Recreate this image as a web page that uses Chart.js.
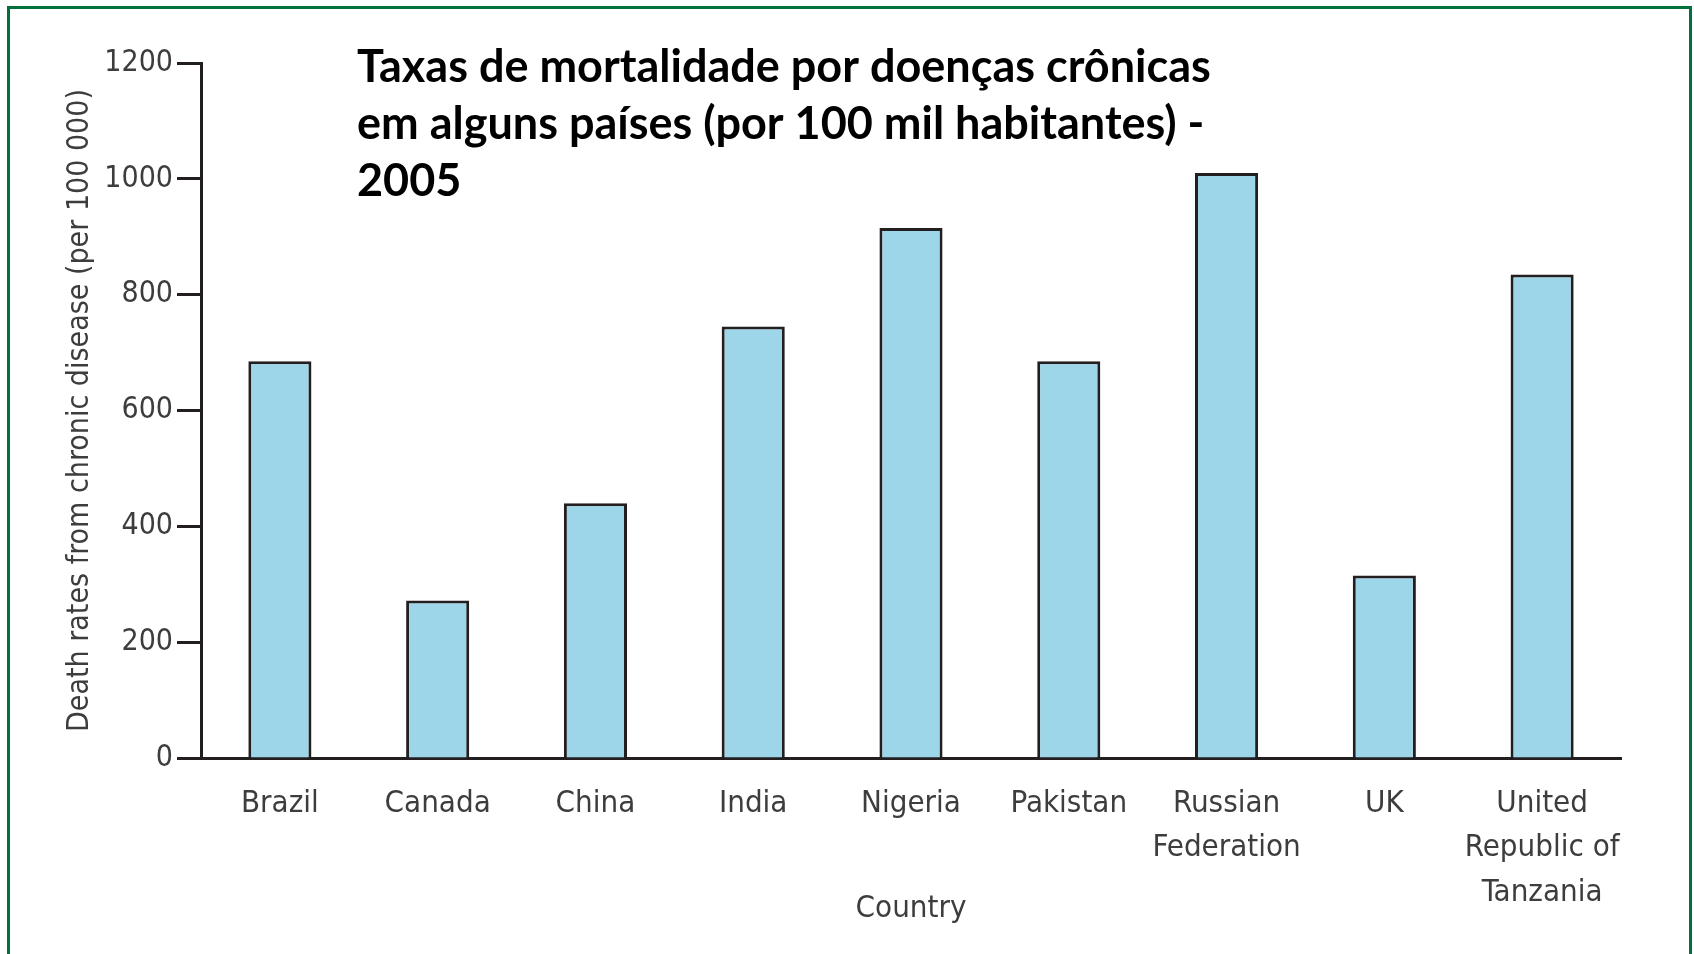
<!DOCTYPE html>
<html>
<head>
<meta charset="utf-8">
<script src="https://cdn.jsdelivr.net/npm/chart.js@4"></script>
<style>
  html, body { margin: 0; padding: 0; background: #fff; overflow: hidden; }
  #frame {
    position: absolute; left: 7px; top: 6px; width: 1679px; height: 1000px;
    border: 3px solid #00703c;
  }
  #deathChart { position: absolute; left: 0; top: 0; }
</style>
</head>
<body>
<div id="frame"></div>
<canvas id="deathChart" width="1694" height="954"></canvas>
<script>
// data
const countries = [
  "Brazil", "Canada", "China", "India", "Nigeria", "Pakistan",
  ["Russian", "Federation"], "UK", ["United", "Republic of", "Tanzania"],
];
const deathRates = [685, 272, 440, 745, 915, 685, 1010, 315, 835];
const yTicks = [0, 200, 400, 600, 800, 1000, 1200];
const titleLines = [
  "Taxas de mortalidade por doenças crônicas",
  "em alguns países (por 100 mil habitantes) -",
  "2005",
];

const ink = "#231f20";
const textGrey = "#3d3d3d";
const labelFont = "'DejaVu Sans Condensed', 'Liberation Sans Narrow', sans-serif";

// title sits inside the plot area, top left
const titleOverlay = {
  id: "titleOverlay",
  afterDraw(chart) {
    const ctx = chart.ctx;
    ctx.save();
    ctx.fillStyle = "#000";
    ctx.font = "bold 45px Lato";
    ctx.textBaseline = "alphabetic";
    titleLines.forEach((line, i) => {
      ctx.fillText(line, 357, 82 + i * 57);
    });
    ctx.restore();
  },
};

const ctx = document.getElementById("deathChart").getContext("2d");

new Chart(ctx, {
  type: "bar",
  data: {
    labels: countries,
    datasets: [
      {
        label: "Death rates",
        data: deathRates,
        backgroundColor: "#9dd6e8",
        borderColor: ink,
        borderWidth: 3,
        barPercentage: 0.4,
        categoryPercentage: 1,
      },
    ],
  },
  options: {
    responsive: false,
    animation: false,
    layout: { padding: { left: 0, right: 73, top: 63, bottom: 0 } },
    plugins: {
      legend: { display: false },
      tooltip: { enabled: false },
    },
    scales: {
      x: {
        grid: { display: false, drawTicks: false },
        border: { display: true, color: ink, width: 3 },
        ticks: {
          color: textGrey,
          font: { family: labelFont, size: 31, lineHeight: 1.45 },
          padding: 23,
          maxRotation: 0,
          autoSkip: false,
        },
        title: {
          display: true,
          text: "Country",
          color: textGrey,
          font: { family: labelFont, size: 31 },
          padding: { top: 0, bottom: 26 },
        },
        afterFit: (scale) => { scale.height = 196; },
      },
      y: {
        min: 0,
        max: 1200,
        afterBuildTicks: (scale) => { scale.ticks = yTicks.map((v) => ({ value: v })); },
        grid: {
          drawOnChartArea: false,
          drawTicks: true,
          tickLength: 24,
          tickColor: ink,
          tickWidth: 3,
        },
        border: { display: true, color: ink, width: 3 },
        ticks: {
          color: textGrey,
          font: { family: labelFont, size: 30 },
          padding: 4,
          callback: (value) => String(value),
        },
        title: {
          display: true,
          text: "Death rates from chronic disease (per 100 000)",
          color: textGrey,
          font: { family: labelFont, size: 30 },
          padding: { top: 62, bottom: 0 },
        },
        afterFit: (scale) => { scale.width = 201; },
      },
    },
  },
  plugins: [titleOverlay],
});
</script>
</body>
</html>
